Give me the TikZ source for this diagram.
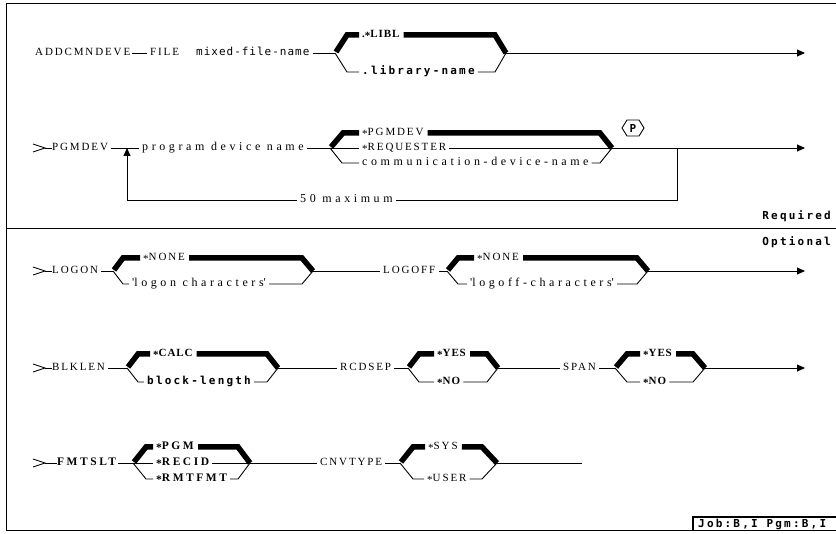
\documentclass[tikz,border=0pt]{standalone}
\usepackage{fontspec}
\usetikzlibrary{arrows.meta,calc}
\newfontfamily\fcaps[LetterSpace=17]{Liberation Serif}
\newfontfamily\fbsa[LetterSpace=8]{Liberation Serif}
\newfontfamily\fbsb[LetterSpace=22]{Liberation Serif}
\newfontfamily\flow[LetterSpace=30]{Liberation Serif}
\newfontfamily\fmono[LetterSpace=9]{DejaVu Sans Mono}
\newfontfamily\fbold[LetterSpace=20]{DejaVu Sans Mono}
\newcommand\myast{\raisebox{-1.8pt}{*}}
\tikzset{
  ln/.style={line width=0.9pt},
  thk/.style={line width=5.5pt},
  txt/.style={anchor=west,inner sep=0pt,text height=7pt,text depth=1pt},
  capt/.style={txt,font=\fcaps\fontsize{11}{12}\selectfont},
  lowt/.style={txt,font=\flow\fontsize{12}{13}\selectfont},
  monot/.style={txt,font=\fmono\fontsize{11}{12}\selectfont},
  boldt/.style={txt,font=\fbold\bfseries\fontsize{11}{12}\selectfont},
  bsera/.style={txt,font=\fbsa\bfseries\fontsize{11}{12}\selectfont},
  bserb/.style={txt,font=\fbsb\bfseries\fontsize{11.5}{12}\selectfont},
  arr/.style={-{Triangle[length=8pt,width=7pt]}}
}
\begin{document}
\begin{tikzpicture}[x=1pt,y=-1pt]
\useasboundingbox (0,0) rectangle (836,534);
\fill[white] (0,0) rectangle (836,534);
% frame
\draw[line width=1pt] (836,4) -- (6,4) -- (6,531) -- (836,531);
\draw[line width=1pt] (6,229) -- (836,229);
\node[boldt,anchor=east] (req) at (831,217) {Required};
\node[boldt,anchor=east] (opt) at (831,243) {Optional};
% ---------------- row 1
\node[capt] (addc) at (35,53) {ADDCMNDEVE};
\node[capt] (file) at (150,53) {FILE};
\node[monot] (mfn) at (196,53) {mixed-file-name};
\coordinate (v1a) at (335,53);
\node[bsera] (libl) at (362,35) {.\myast LIBL};
\node[boldt] (libn) at (362,72) {.library-name};
\coordinate (v1b) at (506,53);
\coordinate (e1) at (805,53);
\draw[ln] ([xshift=2pt]addc.east) -- ([xshift=-3pt]file.west);
\draw[ln] ([xshift=3pt]mfn.east) -- (v1a);
\draw[thk] ([shift={(1,-1)}]v1a) -- (347,35) -- ([xshift=-3pt]libl.west);
\draw[thk] ([xshift=4pt]libl.east) -- (495,35) -- (v1b);
\draw[ln] (v1a) -- (347,72) -- ([xshift=-3pt]libn.west);
\draw[ln] ([xshift=3pt]libn.east) -- (495,72) -- (v1b);
\draw[ln,arr] (v1b) -- (e1);
% ---------------- row 2
\coordinate (s2) at (45,148);
\draw[ln] (33,144) -- (s2) -- (33,152);
\node[capt] (pgmdev) at (52,148) {PGMDEV};
\draw[ln] (s2) -- (pgmdev.west);
\coordinate (j2) at (127,148);
\node[lowt] (pdn) at (142,148) {program device name};
\draw[ln] ([xshift=3pt]pgmdev.east) -- ([xshift=-3pt]pdn.west);
\coordinate (v2a) at (330,148);
\draw[ln] ([xshift=3pt]pdn.east) -- (v2a);
\node[capt] (c21) at (362,133) {\myast PGMDEV};
\node[capt] (c22) at (362,148) {\myast REQUESTER};
\node[lowt] (c23) at (362,163) {communication-device-name};
\coordinate (v2b) at (612,148);
\draw[thk] ([shift={(1,-1)}]v2a) -- (343,133) -- ([xshift=-3pt]c21.west);
\draw[thk] ([xshift=4pt]c21.east) -- (600,133) -- (v2b);
\draw[ln] (v2a) -- ([xshift=-3pt]c22.west);
\draw[ln] ([xshift=3pt]c22.east) -- (v2b);
\draw[ln] (v2a) -- (342,163) -- ([xshift=-3pt]c23.west);
\draw[ln] ([xshift=3pt]c23.east) -- (600,163) -- (v2b);
\draw[ln,arr] (v2b) -- (805,148);
\node[inner sep=0pt,font=\fbold\bfseries\fontsize{11}{12}\selectfont] (pm) at (633,128) {P};
\draw[ln] ([xshift=-11pt]pm.center) -- ++(5,-8) -- ++(12,0) -- ++(5,8) -- ++(-5,8) -- ++(-12,0) -- cycle;
\coordinate (l2) at (677,148);
\node[lowt] (max) at (300,200) {50 maximum};
\draw[ln] (l2) -- (677,200) -- ([xshift=3pt]max.east);
\draw[ln,arr] ([xshift=-3pt]max.west) -- (127,200) -- (j2);
% ---------------- LOGON row
\coordinate (s3) at (45,271);
\draw[ln] (33,267) -- (s3) -- (33,275);
\node[capt] (logon) at (52,271) {LOGON};
\draw[ln] (s3) -- (logon.west);
\coordinate (v3a) at (113,271);
\draw[ln] ([xshift=3pt]logon.east) -- (v3a);
\node[capt] (n31) at (143,258) {\myast NONE};
\node[lowt] (n32) at (132,284) {\textquotesingle logon characters\textquotesingle};
\coordinate (v3b) at (313,271);
\draw[thk] ([shift={(1,-1)}]v3a) -- (123,258) -- ([xshift=-3pt]n31.west);
\draw[thk] ([xshift=4pt]n31.east) -- (302,258) -- (v3b);
\draw[ln] (v3a) -- (123,284) -- ([xshift=-3pt]n32.west);
\draw[ln] ([xshift=3pt]n32.east) -- (302,284) -- (v3b);
\node[capt] (logoff) at (383,271) {LOGOFF};
\draw[ln] (v3b) -- ([xshift=-3pt]logoff.west);
\coordinate (v3c) at (447,271);
\draw[ln] ([xshift=3pt]logoff.east) -- (v3c);
\node[capt] (n33) at (477,258) {\myast NONE};
\node[lowt] (n34) at (470,284) {\textquotesingle logoff-characters\textquotesingle};
\coordinate (v3d) at (648,271);
\draw[thk] ([shift={(1,-1)}]v3c) -- (458,258) -- ([xshift=-3pt]n33.west);
\draw[thk] ([xshift=4pt]n33.east) -- (637,258) -- (v3d);
\draw[ln] (v3c) -- (458,284) -- ([xshift=-3pt]n34.west);
\draw[ln] ([xshift=3pt]n34.east) -- (637,284) -- (v3d);
\draw[ln,arr] (v3d) -- (805,271);
% ---------------- BLKLEN row
\coordinate (s4) at (45,368);
\draw[ln] (33,364) -- (s4) -- (33,372);
\node[capt] (blk) at (52,368) {BLKLEN};
\draw[ln] (s4) -- (blk.west);
\coordinate (v4a) at (127,368);
\draw[ln] ([xshift=3pt]blk.east) -- (v4a);
\node[bsera] (n41) at (153,354) {\myast CALC};
\node[boldt] (n42) at (147,382) {block-length};
\coordinate (v4b) at (278,368);
\draw[thk] ([shift={(1,-1)}]v4a) -- (138,354) -- ([xshift=-3pt]n41.west);
\draw[thk] ([xshift=4pt]n41.east) -- (267,354) -- (v4b);
\draw[ln] (v4a) -- (138,382) -- ([xshift=-3pt]n42.west);
\draw[ln] ([xshift=3pt]n42.east) -- (267,382) -- (v4b);
\node[capt] (rcd) at (340,368) {RCDSEP};
\draw[ln] (v4b) -- ([xshift=-3pt]rcd.west);
\coordinate (v4c) at (408,368);
\draw[ln] ([xshift=3pt]rcd.east) -- (v4c);
\node[bsera] (n43) at (437,354) {\myast YES};
\node[bsera] (n44) at (437,382) {\myast NO};
\coordinate (v4d) at (498,368);
\draw[thk] ([shift={(1,-1)}]v4c) -- (419,354) -- ([xshift=-3pt]n43.west);
\draw[thk] ([xshift=4pt]n43.east) -- (487,354) -- (v4d);
\draw[ln] (v4c) -- (419,382) -- ([xshift=-3pt]n44.west);
\draw[ln] ([xshift=3pt]n44.east) -- (487,382) -- (v4d);
\node[capt] (span) at (563,368) {SPAN};
\draw[ln] (v4d) -- ([xshift=-3pt]span.west);
\coordinate (v4e) at (615,368);
\draw[ln] ([xshift=3pt]span.east) -- (v4e);
\node[bsera] (n45) at (643,354) {\myast YES};
\node[bsera] (n46) at (643,382) {\myast NO};
\coordinate (v4f) at (705,368);
\draw[thk] ([shift={(1,-1)}]v4e) -- (627,354) -- ([xshift=-3pt]n45.west);
\draw[thk] ([xshift=4pt]n45.east) -- (693,354) -- (v4f);
\draw[ln] (v4e) -- (627,382) -- ([xshift=-3pt]n46.west);
\draw[ln] ([xshift=3pt]n46.east) -- (693,382) -- (v4f);
\draw[ln,arr] (v4f) -- (805,368);
% ---------------- FMTSLT row
\coordinate (s5) at (45,463);
\draw[ln] (33,459) -- (s5) -- (33,467);
\node[bserb] (fmt) at (57,463) {FMTSLT};
\draw[ln] (s5) -- (fmt.west);
\coordinate (v5a) at (133,463);
\draw[ln] ([xshift=2pt]fmt.east) -- (v5a);
\node[bserb] (n51) at (156,447) {\myast PGM};
\node[bserb] (n52) at (156,463) {\myast RECID};
\node[bserb] (n53) at (156,479) {\myast RMTFMT};
\coordinate (v5b) at (250,463);
\draw[thk] ([shift={(1,-1)}]v5a) -- (146,447) -- ([xshift=-3pt]n51.west);
\draw[thk] ([xshift=4pt]n51.east) -- (238,447) -- (v5b);
\draw[ln] (v5a) -- ([xshift=-3pt]n52.west);
\draw[ln] ([xshift=3pt]n52.east) -- (v5b);
\draw[ln] (v5a) -- (146,479) -- ([xshift=-3pt]n53.west);
\draw[ln] ([xshift=3pt]n53.east) -- (238,479) -- (v5b);
\node[capt] (cnv) at (320,463) {CNVTYPE};
\draw[ln] (v5b) -- ([xshift=-3pt]cnv.west);
\coordinate (v5c) at (400,463);
\draw[ln] ([xshift=3pt]cnv.east) -- (v5c);
\node[capt] (n54) at (428,447) {\myast SYS};
\node[capt] (n55) at (427,479) {\myast USER};
\coordinate (v5d) at (497,463);
\draw[thk] ([shift={(1,-1)}]v5c) -- (413,447) -- ([xshift=-3pt]n54.west);
\draw[thk] ([xshift=4pt]n54.east) -- (482,447) -- (v5d);
\draw[ln] (v5c) -- (413,479) -- ([xshift=-3pt]n55.west);
\draw[ln] ([xshift=3pt]n55.east) -- (482,479) -- (v5d);
\coordinate (e5) at (582,463);
\draw[ln] (v5d) -- (e5);
% job box
\node[boldt] (job) at (698,524.5) {Job:B,I Pgm:B,I};
\draw[line width=1.1pt] (693,531) |- (836,517);
\end{tikzpicture}
\end{document}
